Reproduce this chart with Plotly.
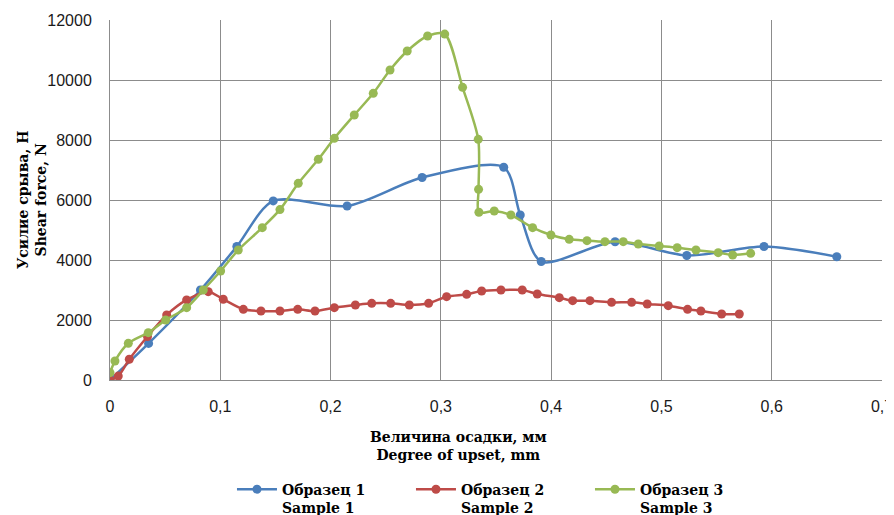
import plotly.graph_objects as go

# Data
s1_x = [0.0, 0.035, 0.082, 0.115, 0.148, 0.215, 0.283, 0.357, 0.372, 0.391, 0.458, 0.523, 0.593, 0.659]
s1_y = [0, 1220, 3000, 4450, 5970, 5800, 6750, 7090, 5500, 3950, 4610, 4150, 4450, 4110]

s2_x = [0.0, 0.0075, 0.0175, 0.034, 0.0514, 0.0695, 0.0891, 0.1027, 0.1209, 0.1369, 0.1541, 0.1702,
        0.1859, 0.2034, 0.2225, 0.2373, 0.2545, 0.2714, 0.2889, 0.3052, 0.3234, 0.337, 0.3545,
        0.3738, 0.3874, 0.4074, 0.4195, 0.4352, 0.4548, 0.473, 0.4871, 0.5062, 0.5237, 0.5358,
        0.5546, 0.5706]
s2_y = [0, 130, 690, 1450, 2170, 2670, 2945, 2690, 2356, 2300, 2300, 2356,
        2300, 2411, 2500, 2556, 2556, 2500, 2556, 2778, 2856, 2967, 3000,
        3000, 2867, 2744, 2644, 2644, 2589, 2589, 2533, 2478, 2356, 2300,
        2200, 2200]

s3_x = [0.0, 0.0045, 0.0166, 0.0347, 0.0505, 0.0695, 0.0846, 0.1003, 0.1163, 0.1381, 0.1541, 0.1707,
        0.1889, 0.2034, 0.2215, 0.2387, 0.2539, 0.2695, 0.288, 0.3035, 0.3197, 0.3339, 0.3342,
        0.3345, 0.3484, 0.3635, 0.3832, 0.3998, 0.4164, 0.4325, 0.4488, 0.4654, 0.479, 0.498,
        0.5143, 0.5313, 0.5515, 0.5646, 0.5809]
s3_y = [245, 633, 1223, 1578, 2000, 2411, 3000, 3633, 4333, 5078, 5680, 6556,
        7356, 8056, 8833, 9556, 10333, 10967, 11467, 11530, 9756, 8022, 6356,
        5590, 5633, 5500, 5078, 4833, 4689, 4644, 4611, 4611, 4533, 4467,
        4411, 4333, 4244, 4167, 4222]

x_ticks = [0, 0.1, 0.2, 0.3, 0.4, 0.5, 0.6, 0.7]
x_tick_text = ["0", "0,1", "0,2", "0,3", "0,4", "0,5", "0,6", "0,7"]
y_ticks = [0, 2000, 4000, 6000, 8000, 10000, 12000]
y_tick_text = ["0", "2000", "4000", "6000", "8000", "10000", "12000"]

names = ["<b>Образец 1<br>Sample 1</b>", "<b>Образец 2<br>Sample 2</b>", "<b>Образец 3<br>Sample 3</b>"]
colors = ["#4a7ebb", "#be4b48", "#98b954"]

fig = go.Figure()
for xs, ys, nm, c in [(s1_x, s1_y, names[0], colors[0]),
                      (s2_x, s2_y, names[1], colors[1]),
                      (s3_x, s3_y, names[2], colors[2])]:
    fig.add_trace(go.Scatter(
        x=xs, y=ys, name=nm, mode="lines+markers",
        line=dict(color=c, width=2.5, shape="spline", smoothing=0.8),
        marker=dict(color=c, size=9),
    ))

tick_font = dict(family="Liberation Sans, Arial, sans-serif", size=16, color="#1a1a1a")
title_font = dict(family="DejaVu Serif, Liberation Serif, serif", size=14, color="#000000")

# the page body adds an 8px offset, so the figure is sized/margined to compensate
fig.update_layout(
    width=886, height=507,
    margin=dict(l=102, r=12, t=12, b=135, autoexpand=False),
    paper_bgcolor="white", plot_bgcolor="white",
    showlegend=True,
    legend=dict(
        orientation="h", x=0.158, xanchor="left", y=-0.26, yanchor="top",
        font=dict(family="DejaVu Serif, Liberation Serif, serif", size=14, color="#000000"),
        itemwidth=40, tracegroupgap=0, entrywidth=124, entrywidthmode="pixels",
        valign="top",
    ),
    xaxis=dict(
        range=[0, 0.7], tickvals=x_ticks, ticktext=x_tick_text,
        showgrid=True, gridcolor="#8c8c8c", gridwidth=1,
        showline=True, linecolor="#8c8c8c", linewidth=1, mirror=False,
        zeroline=False, ticks="", tickfont=tick_font, ticklabelstandoff=12,
        automargin=False,
    ),
    yaxis=dict(
        range=[0, 12000], tickvals=y_ticks, ticktext=y_tick_text,
        showgrid=True, gridcolor="#8c8c8c", gridwidth=1,
        showline=True, linecolor="#8c8c8c", linewidth=1,
        zeroline=False, ticks="", tickfont=tick_font, ticklabelstandoff=14,
        automargin=False,
    ),
    annotations=[
        dict(text="<b>Величина осадки, мм<br>Degree of upset, mm</b>",
             xref="paper", yref="paper", x=0.451, y=-0.13, xanchor="center", yanchor="top",
             showarrow=False, font=title_font),
        dict(text="<b>Усилие срыва, Н<br>Shear force, N</b>",
             xref="paper", yref="paper", x=-0.101, y=0.5, xanchor="center", yanchor="middle",
             textangle=-90, showarrow=False, font=title_font),
    ],
)

fig.write_html("out.html")
